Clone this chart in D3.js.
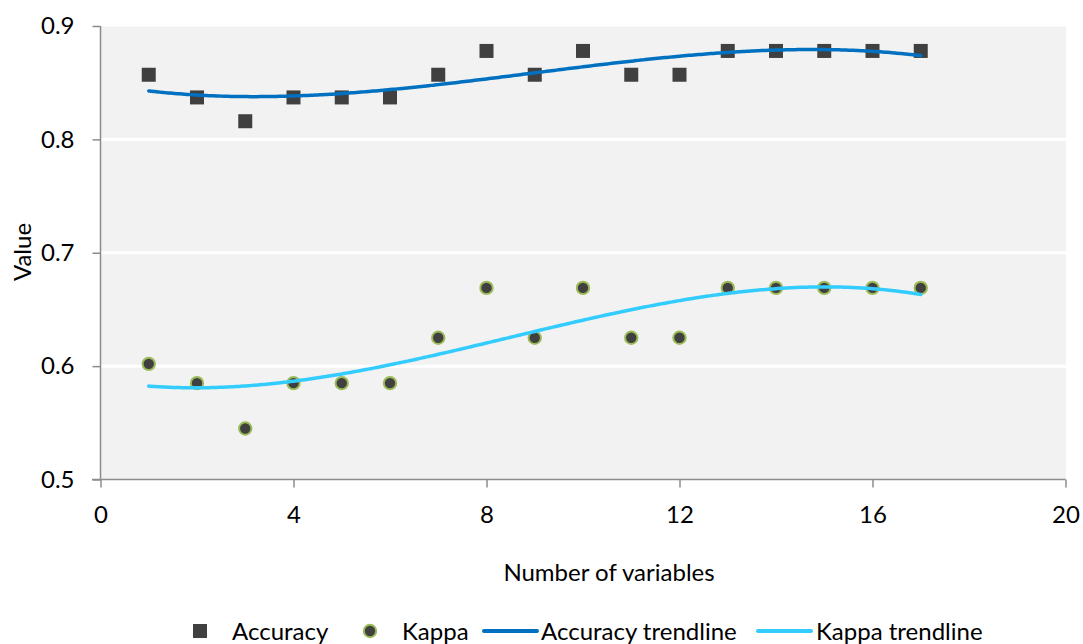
<!DOCTYPE html>
<html><head><meta charset="utf-8">
<script src="https://cdn.jsdelivr.net/npm/d3@7"></script>
<style>body{margin:0;background:#fff}svg{display:block}text{font-family:Lato,"Open Sans",sans-serif;fill:#000}</style>
</head><body><svg id="c" width="1083" height="644"></svg>
<script>
const variables = [1,2,3,4,5,6,7,8,9,10,11,12,13,14,15,16,17];
const accuracy = [0.857,0.837,0.816,0.837,0.837,0.837,0.857,0.878,0.857,0.878,0.857,0.857,0.878,0.878,0.878,0.878,0.878];
const kappa = [0.602,0.585,0.545,0.585,0.585,0.585,0.625,0.669,0.625,0.669,0.625,0.625,0.669,0.669,0.669,0.669,0.669];
const xTicks = [0,4,8,12,16,20];
const yTicks = [0.5,0.6,0.7,0.8,0.9];
const legendLabels = ["Accuracy","Kappa","Accuracy trendline","Kappa trendline"];

// least squares polynomial fit (order 3), like a spreadsheet trendline
function polyfit(xs, ys, order){
  const n = order+1;
  const A = Array.from({length:n},()=>new Array(n+1).fill(0));
  for(let k=0;k<xs.length;k++){
    for(let i=0;i<n;i++){
      for(let j=0;j<n;j++) A[i][j]+=Math.pow(xs[k],i+j);
      A[i][n]+=ys[k]*Math.pow(xs[k],i);
    }
  }
  for(let i=0;i<n;i++){
    let p=i; for(let r=i+1;r<n;r++) if(Math.abs(A[r][i])>Math.abs(A[p][i])) p=r;
    [A[i],A[p]]=[A[p],A[i]];
    for(let r=0;r<n;r++){ if(r===i) continue; const f=A[r][i]/A[i][i]; for(let c=i;c<=n;c++) A[r][c]-=f*A[i][c]; }
  }
  const coef = A.map((row,i)=>row[n]/row[i]);
  return x=>coef.reduce((s,c,i)=>s+c*Math.pow(x,i),0);
}

const FS = "24px";
const svg = d3.select("#c");
const x = d3.scaleLinear().domain([0,20]).range([100.5,1065.5]);
const y = d3.scaleLinear().domain([0.5,0.9]).range([479.5,26]);

svg.append("rect").attr("x",101).attr("y",26.5).attr("width",965).attr("height",453).attr("fill","#f2f2f2");
svg.append("g").selectAll("line").data(yTicks.slice(1,4)).join("line")
  .attr("x1",101).attr("x2",1066).attr("y1",d=>y(d)).attr("y2",d=>y(d))
  .attr("stroke","#fff").attr("stroke-width",3);

const xa = svg.append("g").attr("transform","translate(0,479.5)")
  .call(d3.axisBottom(x).tickValues(xTicks).tickSize(8).tickPadding(18).tickSizeOuter(0));
const ya = svg.append("g").attr("transform","translate(100.5,0)")
  .call(d3.axisLeft(y).tickValues(yTicks).tickSize(8).tickPadding(18).tickFormat(d3.format(".1f")).tickSizeOuter(0));
[xa,ya].forEach(a=>{
  a.selectAll("path,line").attr("stroke","#8c8c8c").attr("stroke-width",1.5);
  a.selectAll("text").style("font-size",FS).attr("fill","#000");
});
xa.select(".domain").attr("d","M92,0H1065.5");
ya.select(".domain").attr("d","M0,26V479.5");

const fa = polyfit(variables, accuracy, 3);
const fk = polyfit(variables, kappa, 3);
const xs = d3.range(1,17.001,0.1);
const line = f=>d3.line().x(d=>x(d)).y(d=>y(f(d))).curve(d3.curveBasis)(xs);

const pts = variables.map((v,i)=>({v,a:accuracy[i],k:kappa[i]}));
svg.append("g").selectAll("rect").data(pts).join("rect")
  .attr("x",d=>x(d.v)-7).attr("y",d=>y(d.a)-7).attr("width",14).attr("height",14).attr("fill","#404040");
svg.append("g").selectAll("circle").data(pts).join("circle")
  .attr("cx",d=>x(d.v)).attr("cy",d=>y(d.k)).attr("r",6.2).attr("fill","#404040")
  .attr("stroke","#9bbb59").attr("stroke-width",2);

svg.append("path").attr("d",line(fa)).attr("fill","none").attr("stroke","#0070c0").attr("stroke-width",3.5).attr("stroke-linecap","round");
svg.append("path").attr("d",line(fk)).attr("fill","none").attr("stroke","#33ccff").attr("stroke-width",3.5).attr("stroke-linecap","round");

svg.append("text").attr("transform","translate(31,252) rotate(-90)").attr("text-anchor","middle").style("font-size",FS).text("Value");
svg.append("text").attr("x",609).attr("y",581).attr("text-anchor","middle").style("font-size",FS).text("Number of variables");

const lg = svg.append("g");
const ly = 631;
const tb = ly + 8.5;
lg.append("rect").attr("x",193).attr("y",ly-7).attr("width",14).attr("height",14).attr("fill","#404040");
lg.append("text").attr("x",232).attr("y",tb).style("font-size",FS).text(legendLabels[0]);
lg.append("circle").attr("cx",370).attr("cy",ly).attr("r",6.2).attr("fill","#404040").attr("stroke","#9bbb59").attr("stroke-width",2);
lg.append("text").attr("x",402).attr("y",tb).style("font-size",FS).text(legendLabels[1]);
lg.append("line").attr("x1",484).attr("x2",537).attr("y1",ly).attr("y2",ly).attr("stroke","#0070c0").attr("stroke-width",4).attr("stroke-linecap","round");
lg.append("text").attr("x",541).attr("y",tb).style("font-size",FS).text(legendLabels[2]);
lg.append("line").attr("x1",758).attr("x2",811).attr("y1",ly).attr("y2",ly).attr("stroke","#33ccff").attr("stroke-width",4).attr("stroke-linecap","round");
lg.append("text").attr("x",816).attr("y",tb).style("font-size",FS).text(legendLabels[3]);
</script></body></html>
